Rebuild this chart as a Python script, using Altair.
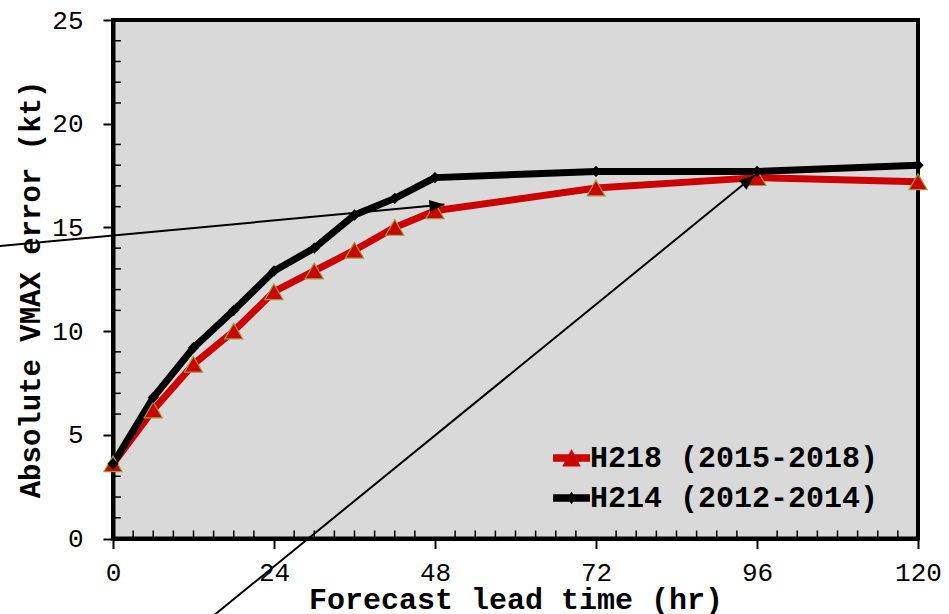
import math
import altair as alt
import pandas as pd

# ---------------- data ----------------
hours = [0, 6, 12, 18, 24, 30, 36, 42, 48, 72, 96, 120]
h218 = [3.6, 6.2, 8.4, 10.0, 11.9, 12.9, 13.9, 15.0, 15.8, 16.9, 17.4, 17.2]
h214 = [3.6, 6.8, 9.2, 11.0, 12.9, 14.0, 15.6, 16.4, 17.4, 17.7, 17.7, 18.0]
series_names = ["H218 (2015-2018)", "H214 (2012-2014)"]

x_ticks = [0, 24, 48, 72, 96, 120]
y_ticks = [0, 5, 10, 15, 20, 25]
x_minor = [h for h in range(0, 121, 3) if h % 24]
y_minor = [v for v in range(0, 26) if v % 5]

# annotation arrows (start -> tip), in data units
arrow_x0 = [-17.5, 14.3]
arrow_y0 = [14.08, -3.9]
arrow_x1 = [49.4, 95.6]
arrow_y1 = [16.1, 17.5]

# ---------------- styles ----------------
W, H = 805, 518.5
RED = "#cc0000"
OLIVE = "#9c9c3c"
FONT = "Liberation Mono"
sx, sy = W / 120.0, H / 25.0

df_red = pd.DataFrame({"hour": hours, "value": h218})
df_black = pd.DataFrame({"hour": hours, "value": h214})
df_all = pd.DataFrame({
    "hour": hours + hours,
    "value": h218 + h214,
    "series": [series_names[0]] * len(hours) + [series_names[1]] * len(hours),
})
df_xminor = pd.DataFrame({"hour": x_minor})
df_yminor = pd.DataFrame({"value": y_minor})
angles = [
    math.degrees(math.atan2(-(b1 - b0) * sy, (a1 - a0) * sx)) % 360
    for a0, b0, a1, b1 in zip(arrow_x0, arrow_y0, arrow_x1, arrow_y1)
]
df_arrow = pd.DataFrame({
    "hour": arrow_x0, "value": arrow_y0,
    "hour2": arrow_x1, "value2": arrow_y1, "angle": angles,
})

xscale = alt.Scale(domain=[0, 120], nice=False, zero=False)
yscale = alt.Scale(domain=[0, 25], nice=False, zero=False)
xaxis = alt.Axis(
    values=x_ticks, title="Forecast lead time (hr)", labelFontSize=26,
    labelPadding=11, labelFlush=False, titleFontSize=30, titleFontWeight="bold",
    titleBaseline="alphabetic", titleY=69.5,
)
yaxis = alt.Axis(
    values=y_ticks, title="Absolute VMAX error (kt)", labelFontSize=26,
    labelPadding=20, labelFlush=False, titleFontSize=29, titleFontWeight="bold",
    titleBaseline="alphabetic", titleX=-74, titleY=269,
)


def X(field="hour"):
    return alt.X(field, type="quantitative", scale=xscale, axis=xaxis)


def Y(field="value"):
    return alt.Y(field, type="quantitative", scale=yscale, axis=yaxis)


red_line = alt.Chart(df_red).mark_line(
    color=RED, strokeWidth=7, strokeJoin="round", strokeCap="round"
).encode(x=X(), y=Y())

black_line = alt.Chart(df_black).mark_line(
    color="black", strokeWidth=7, strokeJoin="round", strokeCap="round"
).encode(x=X(), y=Y())

red_pts = alt.Chart(df_red).mark_point(
    shape="triangle-up", filled=True, size=330, fill=RED, stroke=OLIVE,
    strokeWidth=1.2, opacity=1
).encode(x=X(), y=Y())

black_pts = alt.Chart(df_black).mark_point(
    shape="diamond", filled=True, size=130, color="black", opacity=1
).encode(x=X(), y=Y())

y_minor_ticks = alt.Chart(df_yminor).mark_rule(color="black", strokeWidth=1.5).encode(
    y=Y(), x=alt.value(0), x2=alt.value(8)
)
x_minor_ticks = alt.Chart(df_xminor).mark_rule(color="black", strokeWidth=1.5).encode(
    x=X(), y=alt.value(H - 8), y2=alt.value(H)
)

arrow_lines = alt.Chart(df_arrow).mark_rule(color="black", strokeWidth=2).encode(
    x=X(), y=Y(), x2="hour2:Q", y2="value2:Q"
)
ARROW_PATH = "M0,0 L-2,-0.8 L-2,0.8 Z"
arrow_heads = alt.Chart(df_arrow).mark_point(
    shape=ARROW_PATH, filled=True, size=225, color="black", opacity=1
).encode(x=X("hour2"), y=Y("value2"), angle=alt.Angle("angle:Q", scale=None))

RED_SYM = "M-1,-0.2 L1,-0.2 L1,0.2 L-1,0.2 Z M0,-0.48 L0.5,0.46 L-0.5,0.46 Z"
BLACK_SYM = "M-1,-0.2 L1,-0.2 L1,0.2 L-1,0.2 Z M0,-0.34 L0.24,0 L0,0.34 L-0.24,0 Z"
leg = alt.Legend(
    orient="none", legendX=440, legendY=419.5, title=None, symbolSize=1369,
    labelFont=FONT, labelFontSize=30, labelFontWeight="bold", labelColor="black",
    labelOffset=0, labelLimit=0, rowPadding=6, padding=0, symbolStrokeWidth=0,
    symbolOpacity=1,
)
legend_layer = alt.Chart(df_all).transform_filter("false").mark_point(
    filled=True, opacity=1, size=1369
).encode(
    x=X(), y=Y(),
    color=alt.Color("series:N", scale=alt.Scale(domain=series_names, range=[RED, "black"]), legend=leg),
    shape=alt.Shape("series:N", scale=alt.Scale(domain=series_names, range=[RED_SYM, BLACK_SYM]), legend=leg),
)

chart = alt.layer(
    y_minor_ticks, x_minor_ticks, red_line, black_line, red_pts, black_pts,
    arrow_lines, arrow_heads, legend_layer,
).properties(
    width=W, height=H,
    autosize=alt.AutoSizeParams(type="none"),
    padding={"left": 113, "top": 20, "right": 949 - 113 - W, "bottom": 614 - 20 - H},
).configure_view(
    fill="#d9d9d9", stroke="black", strokeWidth=4
).configure_axis(
    labelFont=FONT, titleFont=FONT, grid=False, domainColor="black", domainWidth=4,
    tickColor="black", tickWidth=2, tickSize=10, labelColor="black", titleColor="black",
)

chart.save("out.html", embed_options={"renderer": "svg", "actions": False})
